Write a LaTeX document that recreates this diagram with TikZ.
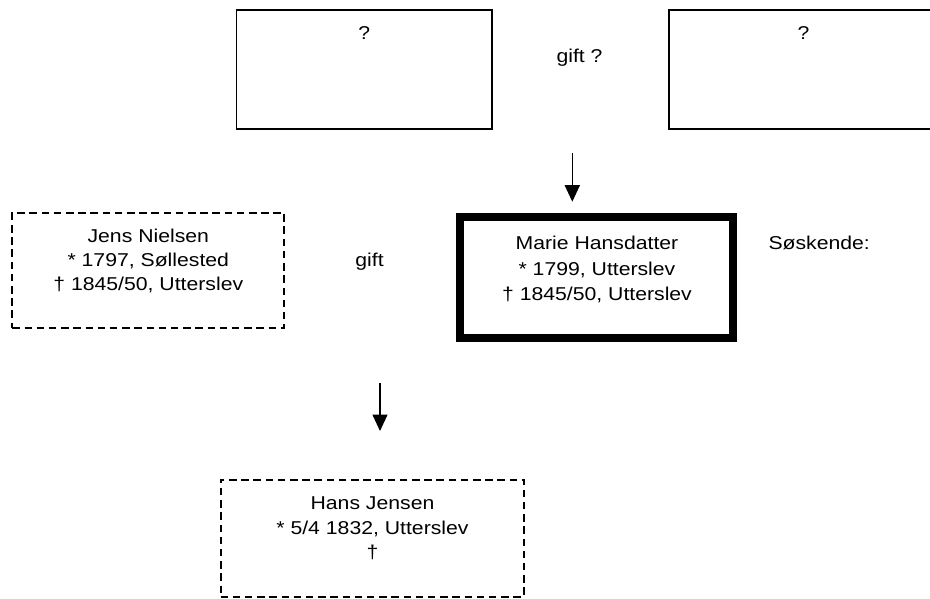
\documentclass[tikz,border=0pt]{standalone}
\usepackage{fontspec}
\setmainfont{Liberation Sans}[FakeStretch=1.14]
\usetikzlibrary{arrows.meta}
\tikzset{
  plainbox/.style={draw=black, line width=1.8pt, inner sep=0pt, fill=none},
  dashbox/.style={draw=black, line width=2pt, dash pattern=on 7.5pt off 4.7pt, inner sep=0pt},
  thickbox/.style={draw=black, line width=8pt, inner sep=0pt},
  txt/.style={inner sep=0pt, anchor=base, font=\fontsize{18.6}{25}\selectfont},
  txtl/.style={txt, anchor=base west},
  downarrow/.style={line width=1.6pt, -{Triangle[length=16.5pt,width=15pt]}}
}
\begin{document}
\begin{tikzpicture}[x=1pt,y=-1pt]
\clip (0,0) rectangle (930,599);
\fill[white] (0,0) rectangle (930,599);
% top boxes
\node[plainbox, minimum width=255.5pt, minimum height=119pt] (tl) at (364.25,69.5) {};
\node[txt] (tlq) at (364.3,40) {?};
\node[plainbox, minimum width=269pt, minimum height=119pt] (tr) at (803.5,69.5) {};
\node[txt] (trq) at (803.5,40) {?};
\node[txt] (gift1) at (579.5,63) {gift ?};
% arrow 1
\coordinate (a1s) at (572.3,153.3);
\coordinate (a1e) at (572.3,201.7);
\draw[downarrow] (a1s) -- (a1e);
% Jens
\node[dashbox, minimum width=272pt, minimum height=115pt] (jens) at (148.3,270.5) {};
\node[txt] (jens1) at (148.3,242.7) {Jens Nielsen};
\node[txt] (jens2) at (148.3,266.3) {* 1797, Søllested};
\node[txt] (jens3) at (148.3,290.5) {† 1845/50, Utterslev};
\node[txt] (gift2) at (369.5,266) {gift};
% Marie
\node[thickbox, minimum width=272.8pt, minimum height=120pt] (marie) at (596.1,277.5) {};
\node[txt] (marie1) at (597,250) {Marie Hansdatter};
\node[txt] (marie2) at (597,275) {* 1799, Utterslev};
\node[txt] (marie3) at (597,300) {† 1845/50, Utterslev};
\node[txtl] (sosk) at (768.3,250) {Søskende:};
% arrow 2
\coordinate (a2s) at (380,383);
\coordinate (a2e) at (380,431);
\draw[downarrow] (a2s) -- (a2e);
% Hans
\node[dashbox, minimum width=303.3pt, minimum height=117pt] (hans) at (372.2,538) {};
\node[txt] (hans1) at (372.5,509.3) {Hans Jensen};
\node[txt] (hans2) at (372.5,534) {* 5/4 1832, Utterslev};
\node[txt] (hans3) at (372.5,558.7) {†};
\end{tikzpicture}
\end{document}
